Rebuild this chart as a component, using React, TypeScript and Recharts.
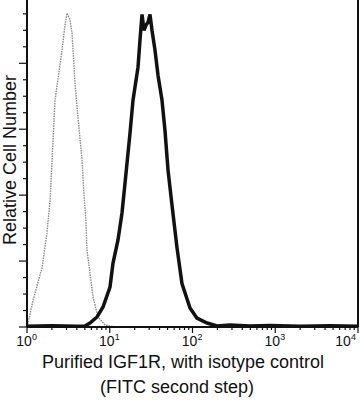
import React from 'react';
import { LineChart, Line, XAxis, YAxis, ReferenceLine } from 'recharts';

// isotype control (grey dotted trace), x = fluorescence, y = cell count
const isotypeX = [1, 1.03, 1.18, 1.52, 1.74, 1.9, 2.18, 2.65, 2.88, 3.04, 3.31, 3.5, 3.8, 4.13, 4.62, 4.89, 5.16, 5.31, 5.77, 6.27, 7.21, 8.77, 11.6, 20];
const isotypeY = [0, 3, 20, 45, 71, 96, 172, 210, 229, 238, 233, 223, 185, 159, 127, 100, 80, 58, 41, 23, 7.6, 1.5, 0, 0];

// purified IGF1R (black trace)
const igf1rX = [1, 2, 4, 5.02, 5.77, 7.02, 8.29, 10.07, 10.95, 12.58, 14.06, 15.29, 17.57, 19.1, 21.95, 23.22, 24.54, 25.94, 27.42, 28.99, 30.64, 32.4, 35.2, 38.3, 42.8, 46.5, 50.6, 56.5, 65, 74.6, 93.3, 113, 150, 198, 284, 495, 864, 1991, 4590, 10000];
const igf1rY = [0.5, 1, 0.6, 0.8, 3, 7.6, 15.2, 30.3, 48.5, 66, 86.5, 109, 147, 172, 197, 218, 237, 225, 229, 231, 237, 225, 210, 191, 172, 149, 119, 92.5, 60, 33, 14.4, 6.8, 3, 0.8, 1.5, 0.8, 1.2, 0.6, 1, 0.5];

const majorX = [1, 10, 100, 1000, 10000];
const xTicks = [1, 2, 3, 4, 5, 6, 7, 8, 9, 10, 20, 30, 40, 50, 60, 70, 80, 90, 100, 200, 300, 400, 500, 600, 700, 800, 900, 1000, 2000, 3000, 4000, 5000, 6000, 7000, 8000, 9000, 10000];
const yTicks = [0, 12.5, 25, 37.5, 50, 62.5, 75, 87.5, 100, 112.5, 125, 137.5, 150, 162.5, 175, 187.5, 200, 212.5, 225, 237.5];

const isotype = isotypeX.map((x, i) => ({ x, y: isotypeY[i] }));
const igf1r = igf1rX.map((x, i) => ({ x, y: igf1rY[i] }));

const FONT = '"Liberation Sans", Arial, sans-serif';

const XTick = (props: any) => {
  const { x, y, payload } = props;
  const v = payload.value;
  const major = majorX.includes(v);
  const exp = Math.round(Math.log10(v));
  const cx = v === 10000 ? x - 15 : x - 3;
  return (
    <g>
      <line x1={x} x2={x} y1={y} y2={y + (major ? 6 : 3)} stroke="#111" strokeWidth={1.2} />
      {major && (
        <g fontFamily={FONT} fill="#111">
          <text x={cx} y={y + 19} textAnchor="middle" fontSize={14}>10</text>
          <text x={cx + 8} y={y + 13} textAnchor="start" fontSize={9}>{exp}</text>
        </g>
      )}
    </g>
  );
};

const YTick = (props: any) => {
  const { x, y, payload } = props;
  const major = payload.value % 50 === 0;
  return <line x1={x} x2={x - (major ? 8 : 4)} y1={y} y2={y} stroke="#111" strokeWidth={1.2} />;
};

export default function App() {
  return (
    <div style={{ position: 'absolute', left: 0, top: 0, width: 362, height: 400, overflow: 'hidden', background: '#fff' }}>
      <LineChart width={362} height={400} margin={{ top: 0, right: 4, left: 26, bottom: 72 }}>
        <XAxis
          dataKey="x"
          type="number"
          scale="log"
          domain={[1, 10000]}
          ticks={xTicks}
          interval={0}
          height={1}
          tickSize={0}
          tickMargin={0}
          tickLine={false}
          tick={<XTick />}
          axisLine={{ stroke: '#111', strokeWidth: 2 }}
          allowDataOverflow
        />
        <YAxis
          type="number"
          domain={[0, 248]}
          ticks={yTicks}
          interval={0}
          width={1}
          tickSize={0}
          tickMargin={0}
          tickLine={false}
          tick={<YTick />}
          axisLine={{ stroke: '#111', strokeWidth: 2 }}
          allowDataOverflow
        />
        <ReferenceLine x={10000} stroke="#111" strokeWidth={2} />
        <Line data={isotype} dataKey="y" type="linear" stroke="#8a8a8a" strokeWidth={1.4} strokeDasharray="1.5 1" dot={false} isAnimationActive={false} />
        <Line data={igf1r} dataKey="y" type="linear" stroke="#111" strokeWidth={3.5} dot={false} isAnimationActive={false} />
        <text transform="rotate(-90)" x={-160} y={16} textAnchor="middle" fontFamily={FONT} fontSize={18} fill="#111">
          Relative Cell Number
        </text>
        <text x={183} y={368} textAnchor="middle" fontFamily={FONT} fontSize={18} fill="#111">
          Purified IGF1R, with isotype control
        </text>
        <text x={177} y={393} textAnchor="middle" fontFamily={FONT} fontSize={18} fill="#111">
          (FITC second step)
        </text>
      </LineChart>
    </div>
  );
}
